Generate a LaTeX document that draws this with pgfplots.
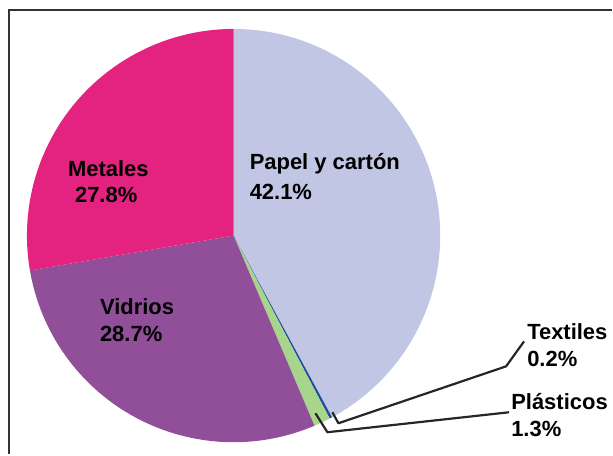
\documentclass[border=0pt]{standalone}
\usepackage{pgfplots}
\pgfplotsset{compat=1.18}
\usepackage{fontspec}
\setmainfont{Liberation Sans}
\definecolor{papel}{RGB}{192,198,228}
\definecolor{metal}{RGB}{227,35,127}
\definecolor{vidrio}{RGB}{144,79,152}
\definecolor{plast}{RGB}{168,213,140}
\definecolor{textil}{RGB}{30,76,154}
\begin{document}
\begin{tikzpicture}
% shares (percent), clockwise from 12 o'clock
\pgfmathsetmacro\vPapel{42.1}
\pgfmathsetmacro\vTextil{0.2}
\pgfmathsetmacro\vPlast{1.3}
\pgfmathsetmacro\vVidrio{28.7}
\pgfmathsetmacro\vMetal{27.8}
\pgfmathsetmacro\aA{90}
\pgfmathsetmacro\aB{\aA-3.6*\vPapel}
\pgfmathsetmacro\aC{\aB-3.6*\vTextil}
\pgfmathsetmacro\aD{\aC-3.6*\vPlast}
\pgfmathsetmacro\aE{\aD-3.6*\vVidrio}
\pgfmathsetmacro\aF{-270}
\begin{axis}[scale only axis, width=613pt, height=455pt,
  xmin=0, xmax=613, ymin=0, ymax=455, y dir=reverse,
  hide axis, clip=false]
\path (axis cs:0,0) rectangle (axis cs:613,455);
\fill[papel] (axis cs:234,236) -- ++(\aA:207pt) arc[start angle=\aA, end angle=\aB, radius=207pt] -- cycle;
\fill[textil] (axis cs:234,236) -- ++(\aB:207pt) arc[start angle=\aB, end angle=\aC, radius=207pt] -- cycle;
\fill[plast] (axis cs:234,236) -- ++(\aC:207pt) arc[start angle=\aC, end angle=\aD, radius=207pt] -- cycle;
\fill[vidrio] (axis cs:234,236) -- ++(\aD:207pt) arc[start angle=\aD, end angle=\aE, radius=207pt] -- cycle;
\fill[metal] (axis cs:234,236) -- ++(\aE:207pt) arc[start angle=\aE, end angle=\aF, radius=207pt] -- cycle;
% frame
\draw[black!80, line width=2.2pt] (axis cs:9,455) -- (axis cs:9,10) -- (axis cs:613,10);
% leader lines
\draw[black!85, line width=2.2pt, line join=round] (axis cs:333,413) -- (axis cs:339,424) -- (axis cs:507,367) -- (axis cs:525,342);
\draw[black!85, line width=2.2pt, line join=round] (axis cs:316,414) -- (axis cs:328,433) -- (axis cs:510,413);
% labels
\tikzset{lab/.style={anchor=base west, inner sep=0pt, font=\bfseries\fontsize{22}{26}\selectfont}}
\node[lab] at (axis cs:68,177) {Metales};
\node[lab] at (axis cs:75,203) {27.8\%};
\node[lab] at (axis cs:250,170) {Papel y cartón};
\node[lab] at (axis cs:250,200) {42.1\%};
\node[lab] at (axis cs:100,315) {Vidrios};
\node[lab] at (axis cs:100,342) {28.7\%};
\node[lab] at (axis cs:528,340) {Textiles};
\node[lab] at (axis cs:528,367) {0.2\%};
\node[lab] at (axis cs:512,410) {Plásticos};
\node[lab] at (axis cs:512,437) {1.3\%};
\end{axis}
\end{tikzpicture}
\end{document}
